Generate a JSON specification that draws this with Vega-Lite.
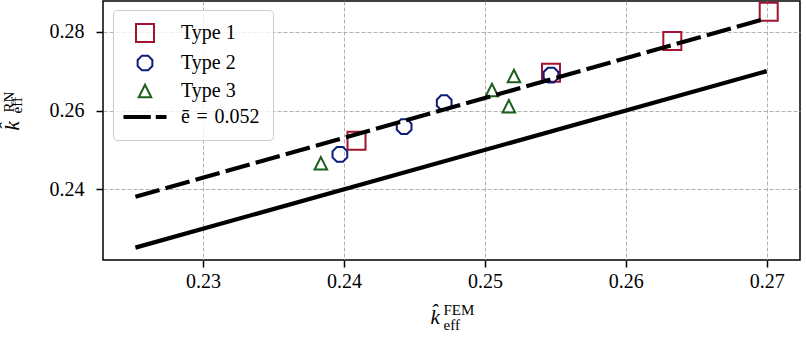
{
  "$schema": "https://vega.github.io/schema/vega-lite/v6.json",
  "width": 697,
  "height": 259,
  "autosize": {"type": "none"},
  "padding": {"left": 103, "top": 1, "right": 6, "bottom": 78},
  "background": "white",
  "datasets": {
    "samples": [
      {"fem": 0.24089, "rn": 0.25233, "type": "Type 1"},
      {"fem": 0.25469, "rn": 0.26959, "type": "Type 1"},
      {"fem": 0.26330, "rn": 0.27764, "type": "Type 1"},
      {"fem": 0.27014, "rn": 0.28508, "type": "Type 1"},
      {"fem": 0.23971, "rn": 0.24888, "type": "Type 2"},
      {"fem": 0.24427, "rn": 0.25589, "type": "Type 2"},
      {"fem": 0.24711, "rn": 0.26198, "type": "Type 2"},
      {"fem": 0.25469, "rn": 0.26901, "type": "Type 2"},
      {"fem": 0.23836, "rn": 0.24660, "type": "Type 3"},
      {"fem": 0.25050, "rn": 0.26520, "type": "Type 3"},
      {"fem": 0.25170, "rn": 0.26107, "type": "Type 3"},
      {"fem": 0.25206, "rn": 0.26876, "type": "Type 3"}
    ],
    "identity": [
      {"fem": 0.2252, "rn": 0.2252},
      {"fem": 0.2700, "rn": 0.2700}
    ],
    "fit": [
      {"fem": 0.2252, "rn": 0.2381},
      {"fem": 0.2700, "rn": 0.2834}
    ]
  },
  "resolve": {"axis": {"x": "independent", "y": "independent"}},
  "layer": [
    {
      "data": {"name": "samples"},
      "mark": {"type": "point", "filled": false, "size": 324, "strokeWidth": 2, "opacity": 1},
      "encoding": {
        "x": {
          "field": "fem", "type": "quantitative",
          "scale": {"domain": [0.2229, 0.27236], "nice": false, "zero": false},
          "axis": {
            "orient": "bottom",
            "values": [0.23, 0.24, 0.25, 0.26, 0.27],
            "format": ".2f",
            "grid": true,
            "ticks": true,
            "labels": true,
            "title": "k̂",
            "titleFontStyle": "italic",
            "titleFontSize": 21,
            "titleX": 327,
            "titleY": 63,
            "titleAlign": "left",
            "titleBaseline": "alphabetic",
            "titleAngle": 0
          }
        },
        "y": {
          "field": "rn", "type": "quantitative",
          "scale": {"domain": [0.22206, 0.2878], "nice": false, "zero": false},
          "axis": {
            "orient": "left",
            "values": [0.24, 0.26, 0.28],
            "format": ".2f",
            "grid": true,
            "ticks": true,
            "labels": true,
            "title": "k̂",
            "titleFontStyle": "italic",
            "titleFontSize": 21,
            "titleX": -85,
            "titleY": 129,
            "titleAlign": "left",
            "titleBaseline": "alphabetic",
            "titleAngle": 270
          }
        },
        "color": {
          "field": "type", "type": "nominal",
          "scale": {
            "domain": ["Type 1", "Type 2", "Type 3", "ē\u2004=\u20040.052"],
            "range": ["#a2142f", "#0c1c7c", "#1d5f1d", "black"]
          },
          "legend": {"title": null}
        },
        "shape": {
          "field": "type", "type": "nominal",
          "scale": {
            "domain": ["Type 1", "Type 2", "Type 3", "ē\u2004=\u20040.052"],
            "range": [
              "square",
              "M0.338,-0.817L0.817,-0.338L0.817,0.338L0.338,0.817L-0.338,0.817L-0.817,0.338L-0.817,-0.338L-0.338,-0.817Z",
              "M0,-0.694L0.694,0.694L-0.694,0.694Z",
              "M-2.28,-0.11H0.53V0.11H-2.28Z M1.31,-0.11H2.28V0.11H1.31Z"
            ]
          },
          "legend": {"title": null}
        }
      }
    },
    {
      "data": {"name": "identity"},
      "mark": {"type": "line", "color": "black", "strokeWidth": 4.2},
      "encoding": {
        "x": {
          "field": "fem", "type": "quantitative",
          "axis": {
            "orient": "bottom", "grid": false, "ticks": false, "labels": false, "domain": false,
            "title": "FEM",
            "titleFontSize": 15,
            "titleX": 340,
            "titleY": 54,
            "titleAlign": "left",
            "titleBaseline": "alphabetic",
            "titleAngle": 0
          }
        },
        "y": {
          "field": "rn", "type": "quantitative",
          "axis": {
            "orient": "left", "grid": false, "ticks": false, "labels": false, "domain": false,
            "title": "RN",
            "titleFontSize": 15,
            "titleX": -90,
            "titleY": 111,
            "titleAlign": "left",
            "titleBaseline": "alphabetic",
            "titleAngle": 270
          }
        }
      }
    },
    {
      "data": {"name": "fit"},
      "mark": {"type": "line", "color": "black", "strokeWidth": 4.2, "strokeDash": [25, 6.25]},
      "encoding": {
        "x": {
          "field": "fem", "type": "quantitative",
          "axis": {
            "orient": "bottom", "grid": false, "ticks": false, "labels": false, "domain": false,
            "title": "eff",
            "titleFontSize": 15,
            "titleX": 340,
            "titleY": 69,
            "titleAlign": "left",
            "titleBaseline": "alphabetic",
            "titleAngle": 0
          }
        },
        "y": {
          "field": "rn", "type": "quantitative",
          "axis": {
            "orient": "left", "grid": false, "ticks": false, "labels": false, "domain": false,
            "title": "eff",
            "titleFontSize": 15,
            "titleX": -81.5,
            "titleY": 112,
            "titleAlign": "left",
            "titleBaseline": "alphabetic",
            "titleAngle": 270
          }
        }
      }
    }
  ],
  "config": {
    "font": "Liberation Serif",
    "view": {"stroke": "black", "strokeWidth": 1.5},
    "axis": {
      "domain": false,
      "gridColor": "#b0b0b0",
      "gridDash": [4, 2],
      "gridWidth": 1,
      "gridOpacity": 1,
      "tickColor": "black",
      "tickWidth": 1.5,
      "tickSize": 7,
      "labelFont": "Liberation Serif",
      "labelFontSize": 20,
      "labelColor": "black",
      "labelFlush": false,
      "labelOverlap": false,
      "titleFont": "Liberation Serif",
      "titleFontWeight": "normal",
      "titleColor": "black"
    },
    "axisX": {"labelPadding": 4},
    "axisY": {"labelPadding": 12},
    "legend": {
      "orient": "none",
      "legendX": 10,
      "legendY": 9,
      "padding": 13,
      "symbolSize": 324,
      "symbolStrokeWidth": 2,
      "symbolOffset": 9,
      "labelOffset": 26,
      "labelFont": "Liberation Serif",
      "labelFontSize": 20,
      "labelColor": "black",
      "labelLimit": 0,
      "rowPadding": 5,
      "strokeColor": "#cccccc",
      "fillColor": "rgba(255,255,255,0.8)",
      "cornerRadius": 4
    }
  }
}
